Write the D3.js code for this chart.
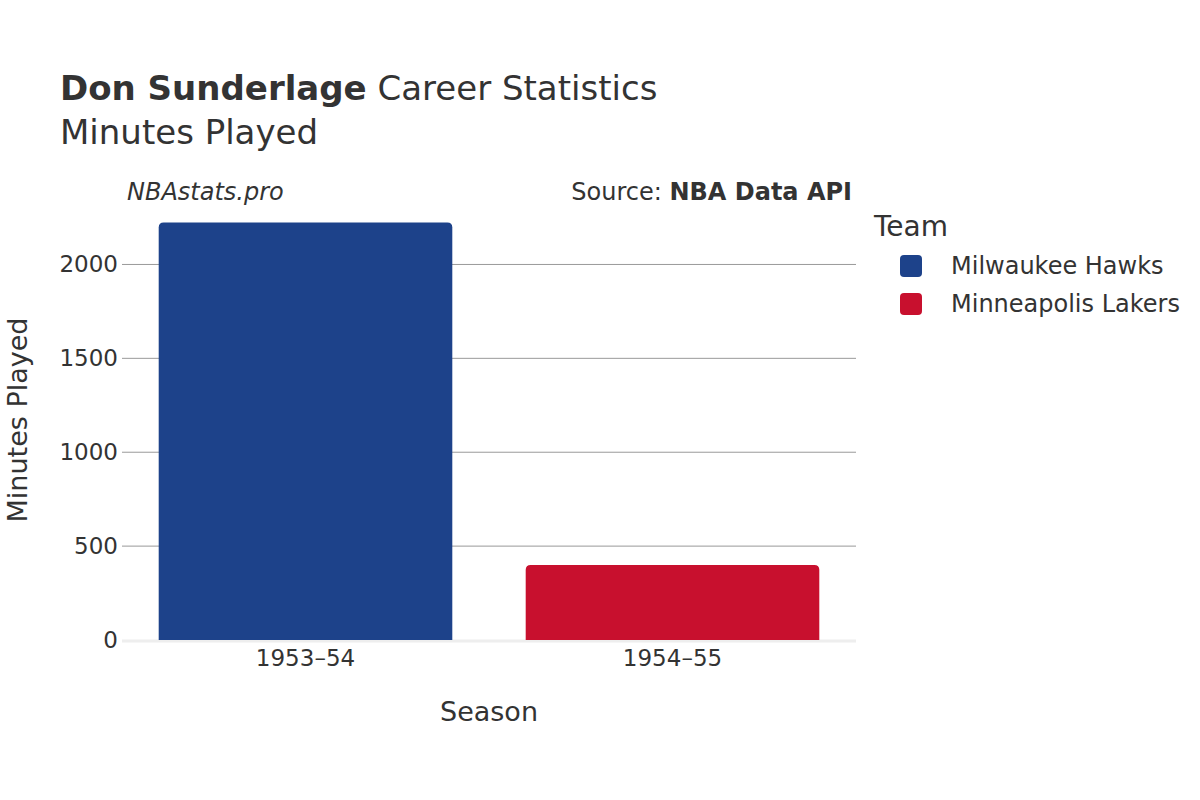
<!DOCTYPE html>
<html><head><meta charset="utf-8">
<script src="https://cdn.jsdelivr.net/npm/d3@7"></script>
<style>body{margin:0;background:#fff;font-family:"DejaVu Sans",sans-serif;}</style>
</head><body><div id="chart"></div>
<script>
var seasons = ["1953–54", "1954–55"];
var teams = ["Milwaukee Hawks", "Minneapolis Lakers"];
var minutes = [2224, 400];
var colors = ["#1d428a", "#c8102e"];
var yTicks = [0, 500, 1000, 1500, 2000];

var svg = d3.select("#chart").append("svg").attr("width", 1200).attr("height", 800);
var plotLeft = 122, plotRight = 856, plotTop = 210, plotBottom = 640;

var x = d3.scaleBand().domain(seasons).range([plotLeft, plotRight]).paddingInner(0.2).paddingOuter(0.1);
var y = d3.scaleLinear().domain([0, 2290]).range([plotBottom, plotTop]);

svg.append("g").selectAll("line").data(yTicks.slice(1)).enter().append("line")
  .attr("x1", plotLeft).attr("x2", plotRight).attr("y1", d => y(d)).attr("y2", d => y(d))
  .attr("stroke", "#999").attr("stroke-width", 1);
svg.append("line").attr("x1", plotLeft).attr("x2", plotRight).attr("y1", plotBottom + 1).attr("y2", plotBottom + 1)
  .attr("stroke", "#eee").attr("stroke-width", 3);

svg.selectAll("path.bar").data(minutes).enter().append("path")
  .attr("fill", (d, i) => colors[i])
  .attr("d", function(d, i) {
    var x0 = x(seasons[i]), w = x.bandwidth(), y0 = y(d), r = 5;
    return "M" + x0 + "," + plotBottom + "V" + (y0 + r) + "Q" + x0 + "," + y0 + " " + (x0 + r) + "," + y0 +
      "H" + (x0 + w - r) + "Q" + (x0 + w) + "," + y0 + " " + (x0 + w) + "," + (y0 + r) + "V" + plotBottom + "Z";
  });

var yAxis = svg.append("g").attr("transform", "translate(" + plotLeft + ",0)")
  .call(d3.axisLeft(y).tickValues(yTicks).tickSize(0).tickPadding(4).tickFormat(d3.format("d")));
yAxis.select(".domain").remove();
yAxis.selectAll("text").attr("font-size", 23).attr("fill", "#333").attr("font-family", "DejaVu Sans");

var xAxis = svg.append("g").attr("transform", "translate(0," + plotBottom + ")")
  .call(d3.axisBottom(x).tickSize(0).tickPadding(10));
xAxis.select(".domain").remove();
xAxis.selectAll("text").attr("font-size", 23).attr("fill", "#333").attr("font-family", "DejaVu Sans");

var title = svg.append("text").attr("x", 60).attr("y", 100).attr("font-size", 34).attr("fill", "#333");
title.append("tspan").attr("font-weight", "bold").text("Don Sunderlage");
title.append("tspan").text(" Career Statistics");
svg.append("text").attr("x", 60).attr("y", 144).attr("font-size", 34).attr("fill", "#333").text("Minutes Played");

svg.append("text").attr("x", 127).attr("y", 200).attr("font-size", 24).attr("font-style", "italic").attr("fill", "#333").text("NBAstats.pro");
var src = svg.append("text").attr("x", 852).attr("y", 200).attr("text-anchor", "end").attr("font-size", 24).attr("fill", "#333");
src.append("tspan").text("Source: ");
src.append("tspan").attr("font-weight", "bold").text("NBA Data API");

svg.append("text").attr("x", 489).attr("y", 721).attr("text-anchor", "middle").attr("font-size", 27).attr("fill", "#333").text("Season");
svg.append("text").attr("transform", "translate(27,420) rotate(-90)").attr("text-anchor", "middle").attr("font-size", 27).attr("fill", "#333").text("Minutes Played");

svg.append("text").attr("x", 874).attr("y", 236).attr("font-size", 28).attr("fill", "#333").text("Team");
var leg = svg.selectAll("g.leg").data(teams).enter().append("g")
  .attr("transform", (d, i) => "translate(900," + (266 + i * 38) + ")");
leg.append("rect").attr("x", 0).attr("y", -11).attr("width", 22).attr("height", 22).attr("rx", 4)
  .attr("fill", (d, i) => colors[i]);
leg.append("text").attr("x", 51).attr("y", 8).attr("font-size", 24).attr("fill", "#333").text(d => d);
</script></body></html>
